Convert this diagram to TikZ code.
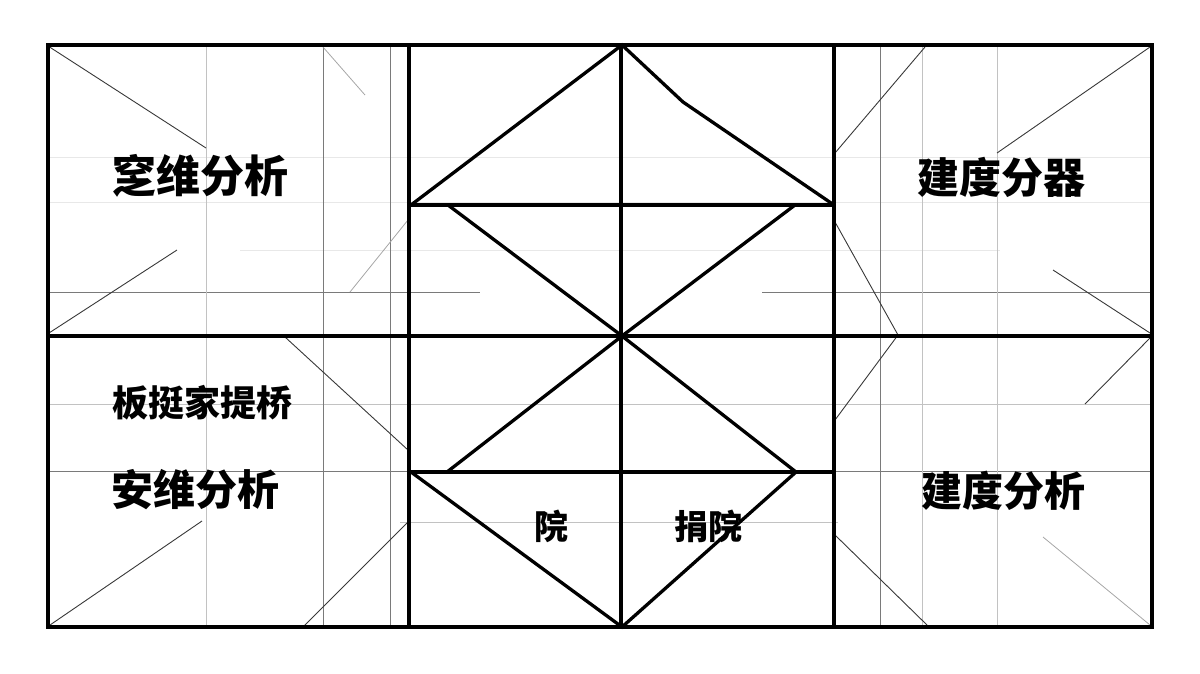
\documentclass[tikz,border=0pt]{standalone}
\usepackage{fontspec}
\newfontfamily\cjk{Noto Sans CJK SC}
\tikzset{
  frame/.style={line width=3.8pt, black, line cap=rect},
  heavy/.style={line width=3.3pt, black, line join=miter},
  guide/.style={line width=1pt, black!52},
  lguide/.style={line width=0.9pt, black!24},
  fguide/.style={line width=0.8pt, black!9},
  thin/.style={line width=0.9pt, black!78},
  fthin/.style={line width=0.8pt, black!35},
  lab/.style={inner sep=0pt, font=\cjk\bfseries},
}
\begin{document}
\begin{tikzpicture}[x=1pt,y=-1pt]
\useasboundingbox (0,0) rectangle (1200,673);
% faint horizontal guides
\draw[fguide] (48,157) -- (1150,157);
\draw[fguide] (48,202) -- (1150,202);
\draw[fguide] (240,250) -- (834,250);
\draw[fguide] (834,250) -- (1000,250);
% horizontal guides
\draw[guide] (48,292) -- (480,292);
\draw[guide] (762,292) -- (1150,292);
\draw[lguide] (48,404) -- (1150,404);
\draw[guide] (48,471) -- (1150,471);
\draw[lguide] (400,522) -- (838,522);
% vertical guides
\draw[lguide] (206,45) -- (206,627);
\draw[guide] (323,45) -- (323,627);
\draw[guide] (390,45) -- (390,627);
\draw[guide] (880,45) -- (880,627);
\draw[lguide] (922,45) -- (922,627);
\draw[lguide] (997,45) -- (997,627);
% thin diagonals, left
\draw[thin] (48,46) -- (206,148);
\draw[thin] (177,250) -- (49,333);
\draw[fthin] (323,47) -- (365,95);
\draw[fthin] (408,220) -- (350,292);
\draw[thin] (285,337) -- (408,450);
\draw[thin] (202,521) -- (50,625);
\draw[thin] (408,522) -- (303,627);
% thin diagonals, right
\draw[thin] (835,153) -- (925,47);
\draw[thin] (997,153) -- (1150,47);
\draw[thin] (1053,270) -- (1150,333);
\draw[thin] (835,222) -- (898,335) -- (835,420);
\draw[thin] (1150,338) -- (1085,404);
\draw[fthin] (1043,537) -- (1150,625);
\draw[thin] (835,535) -- (927,625);
% center diagonals
\draw[heavy] (411,205) -- (622,45) -- (683,102) -- (834,205);
\draw[heavy] (448,205) -- (622,336) -- (795,205);
\draw[heavy] (447,472) -- (622,336) -- (796,472);
\draw[heavy] (411,472) -- (622,627) -- (796,472);
% frame
\draw[frame] (48,45) rectangle (1152,627);
\draw[frame] (409,45) -- (409,627);
\draw[frame] (621,45) -- (621,627);
\draw[frame] (834,45) -- (834,627);
\draw[frame] (48,336) -- (1152,336);
\draw[heavy] (409,205) -- (834,205);
\draw[heavy] (409,472) -- (834,472);
% labels
\node[lab, font=\cjk\bfseries\fontsize{44}{44}\selectfont] (t1) at (200,176) {窆维分析};
\node[lab, font=\cjk\bfseries\fontsize{36}{36}\selectfont] (t2) at (202,403) {板挺家提桥};
\node[lab, font=\cjk\bfseries\fontsize{42}{42}\selectfont] (t3) at (195,490) {安维分析};
\node[lab, font=\cjk\bfseries\fontsize{42}{42}\selectfont] (t4) at (1001,177) {建度分器};
\node[lab, font=\cjk\bfseries\fontsize{41}{41}\selectfont] (t5) at (1003,491) {建度分析};
\node[lab, font=\cjk\bfseries\fontsize{34}{34}\selectfont] (t6) at (551,526) {院};
\node[lab, font=\cjk\bfseries\fontsize{34}{34}\selectfont] (t7) at (708,526) {捐院};
\end{tikzpicture}
\end{document}
